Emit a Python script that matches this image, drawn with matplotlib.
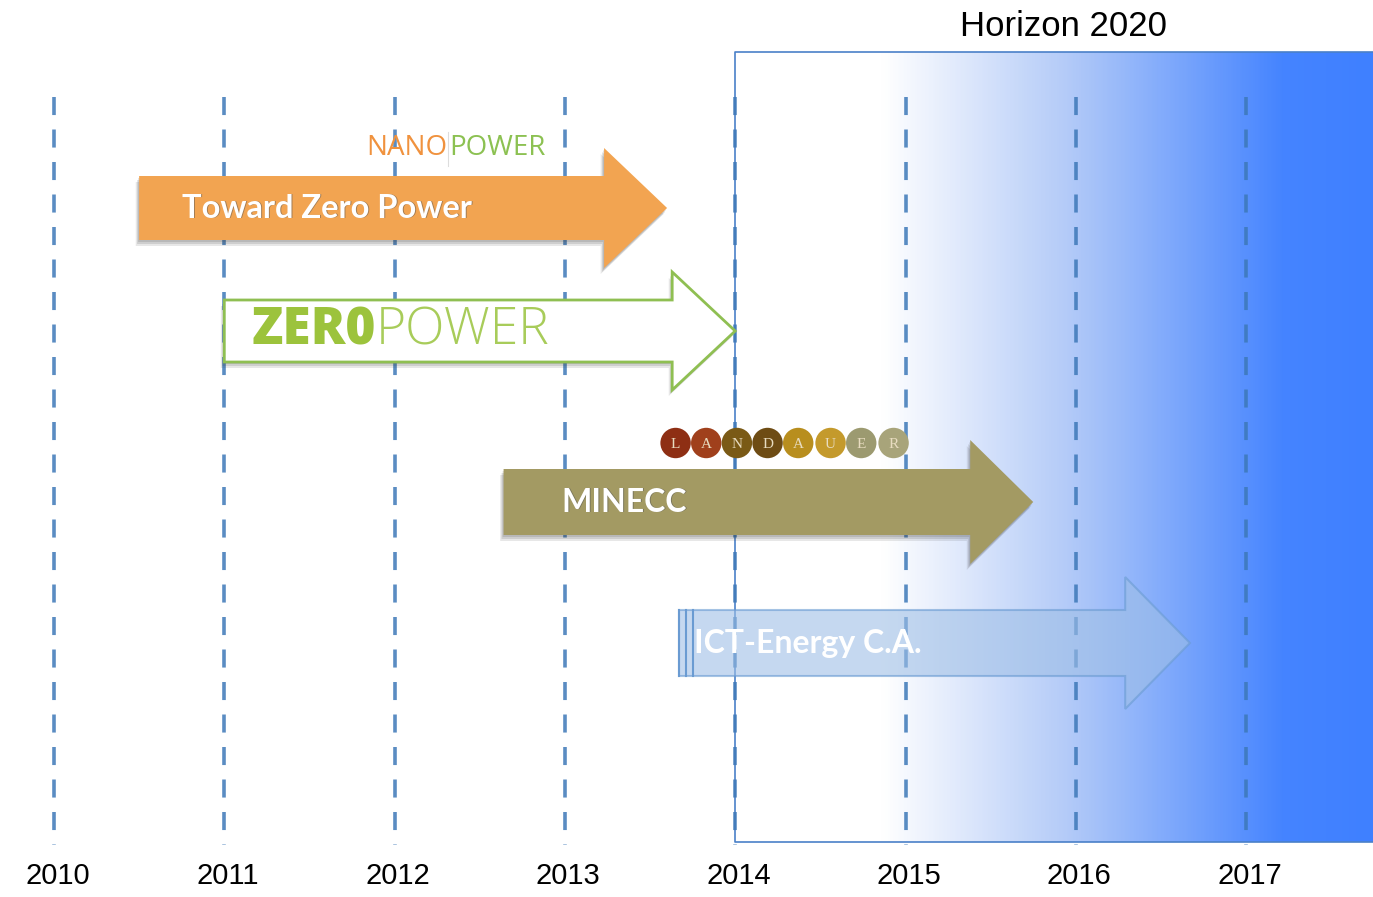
import matplotlib.pyplot as plt
import numpy as np
from matplotlib.colors import LinearSegmentedColormap
from matplotlib.patches import Polygon

# timeline data
years = [2010, 2011, 2012, 2013, 2014, 2015, 2016, 2017]
projects = ["Toward Zero Power", "ZEROPOWER", "MINECC", "ICT-Energy C.A."]
proj_start = [2010.50, 2011.00, 2012.64, 2013.67]
proj_end = [2013.60, 2014.00, 2015.75, 2016.67]
horizon_start = 2014.0
landauer_letters = list("LANDAUER")
landauer_x = [2013.65, 2013.83, 2014.01, 2014.19, 2014.37, 2014.56, 2014.74, 2014.93]
landauer_colors = ["#8e2f14", "#a0401c", "#7a5a16", "#6e4c14",
                   "#b88e1e", "#c49a2c", "#9c9a70", "#a8a47a"]

# figure in pixel-ish rows for the vertical layout
fig = plt.figure(figsize=(13.73, 8.97), dpi=100)
ax = fig.add_axes([0, 0, 1, 1])
px = 170.3  # pixels per year
x0 = 2010 - 54 / px
x1 = 2010 + (1373 - 54) / px
ax.set_xlim(x0, x1)
ax.set_ylim(897, 0)
ax.axis("off")

# Horizon 2020 gradient box
cmap = LinearSegmentedColormap.from_list(
    "h2020", [(0, "#ffffff"), (0.23, "#ffffff"), (0.52, "#b4cbf8"),
              (0.86, "#4584ff"), (1, "#3f80ff")])
grad = np.linspace(0, 1, 400).reshape(1, -1)
ax.imshow(grad, cmap=cmap, aspect="auto", extent=[horizon_start, x1, 842, 52], zorder=0)
ax.plot([x1, horizon_start, horizon_start, x1], [52, 52, 842, 842], color="#4a80c8", lw=1.2, zorder=1)
ax.text(2015.93, 27, "Horizon 2020", fontsize=25, ha="center", va="center",
        family="Liberation Sans", color="black")

# dashed year lines
for y in years:
    ax.plot([y, y], [97, 845], color="#3d78b8", lw=2.6, ls=(0, (5, 4)), zorder=2, alpha=0.85)
    ax.text(y + 0.02, 876, str(y), fontsize=21, ha="center", va="center",
            family="Liberation Sans", color="black")


def arrow(xs, xe, yc, body=32, head=60, hlen=0.37):
    hb = xe - hlen
    return [(xs, yc - body), (hb, yc - body), (hb, yc - head), (xe, yc),
            (hb, yc + head), (hb, yc + body), (xs, yc + body)]


def shadow(pts):
    for dx, dy, a in [(-0.02, 6, 0.12), (-0.012, 4, 0.15), (-0.006, 2, 0.15)]:
        sp = [(x + dx, y + dy) for x, y in pts]
        ax.add_patch(Polygon(sp, closed=True, fc="#404040", ec="none", alpha=a, zorder=3))


centers = [208, 331, 502, 643]
fills = ["#f2a451", "#ffffff", "#a39a63", "#9fbfe6"]

# Toward Zero Power
pts = arrow(proj_start[0], proj_end[0], centers[0])
shadow(pts)
ax.add_patch(Polygon(pts, closed=True, fc=fills[0], ec="none", zorder=4))
ax.text(proj_start[0] + 0.255, centers[0] + 1, projects[0], fontsize=23.5, color="#555555",
        ha="left", va="center", family="Lato", weight="bold", alpha=0.5, zorder=5)
ax.text(proj_start[0] + 0.25, centers[0], projects[0], fontsize=23.5, color="white",
        ha="left", va="center", family="Lato", weight="bold", zorder=6)
ax.text(2012.31, 148, "NANO", fontsize=20, color="#f0923e", ha="right", va="center",
        family="Open Sans", zorder=6)
ax.plot([2012.315, 2012.315], [132, 166], color="#dddddd", lw=0.8, zorder=6)
ax.text(2012.32, 148, "POWER", fontsize=20, color="#8cc152", ha="left", va="center",
        family="Open Sans", zorder=6)

# ZEROPOWER
pts = arrow(proj_start[1], proj_end[1], centers[1], body=31, head=59)
shadow(pts)
ax.add_patch(Polygon(pts, closed=True, fc=fills[1], ec="#8fbf52", lw=2, zorder=4))
zero = ax.text(2011.16, centers[1], "ZER0", fontsize=37, color="#9cc33c", ha="left",
               va="center", family="Open Sans", weight="heavy", zorder=6)
ax.annotate("POWER", xy=(1, 0.5), xycoords=zero, fontsize=37, color="#a8cc5a",
            ha="left", va="center", family="Open Sans", weight="light", zorder=6)

# MINECC
pts = arrow(proj_start[2], proj_end[2], centers[2], body=33, head=62)
shadow(pts)
ax.add_patch(Polygon(pts, closed=True, fc=fills[2], ec="none", zorder=4))
ax.text(2012.985, centers[2] + 1, projects[2], fontsize=23, color="#555555", alpha=0.5,
        ha="left", va="center", family="Lato", weight="bold", zorder=5)
ax.text(2012.98, centers[2], projects[2], fontsize=23, color="white",
        ha="left", va="center", family="Lato", weight="bold", zorder=6)

# LANDAUER logo
ax.scatter(landauer_x, [443] * len(landauer_x), s=480, c=landauer_colors, zorder=6,
           edgecolors="none")
for lx, letter in zip(landauer_x, landauer_letters):
    ax.text(lx, 444, letter, fontsize=11, color="#e8dcc0", ha="center", va="center",
            family="Liberation Serif", zorder=7)

# ICT-Energy C.A.
pts = arrow(proj_start[3], proj_end[3], centers[3], body=33, head=66, hlen=0.38)
ax.add_patch(Polygon(pts, closed=True, fc=fills[3], ec="#6a9bd2", lw=1.5, alpha=0.6, zorder=4))
for sx in [proj_start[3], proj_start[3] + 0.04, proj_start[3] + 0.08]:
    ax.plot([sx, sx], [centers[3] - 33, centers[3] + 33], color="#6a9bd2", lw=1.5, zorder=5)
ax.text(proj_start[3] + 0.09, centers[3], projects[3], fontsize=23, color="white",
        ha="left", va="center", family="Lato", weight="bold", zorder=6)

plt.savefig("out.png", dpi=100)
